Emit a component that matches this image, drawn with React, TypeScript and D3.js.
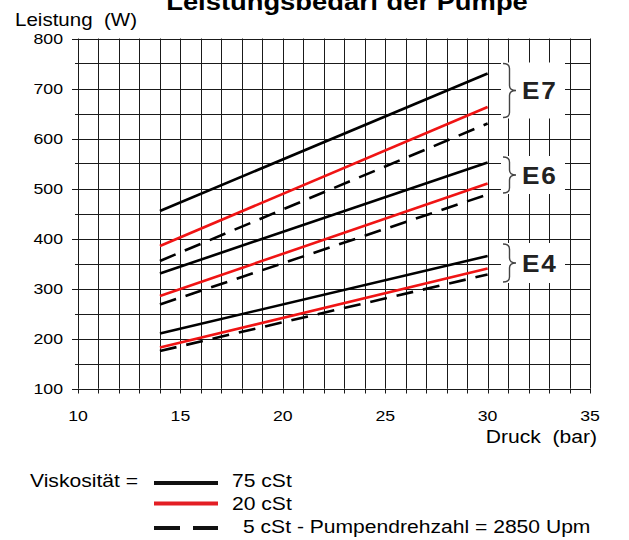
import React, { useEffect, useRef } from "react";
import * as d3 from "d3";

// pressure range of the curves (bar)
const pressure = [14, 30];

// power demand (W) at 14 and 30 bar
const e7Cst75 = [455, 730];
const e7Cst20 = [385, 663];
const e7Cst5 = [355, 630];
const e6Cst75 = [330, 552];
const e6Cst20 = [285, 510];
const e6Cst5 = [268, 488];
const e4Cst75 = [210, 365];
const e4Cst20 = [182, 340];
const e4Cst5 = [175, 328];

const groupNames = ["E7", "E6", "E4"];
const braceTop = [750, 563, 389];
const braceBottom = [642, 491, 313];

const xTicks = [10, 15, 20, 25, 30, 35];
const yTicks = [100, 200, 300, 400, 500, 600, 700, 800];

const legendLabels = ["75 cSt", "20 cSt", "5 cSt - Pumpendrehzahl = 2850 Upm"];

const FONT = "'Liberation Sans', Arial, sans-serif";
const RED = "#f01414";
// the scanned original is stretched a bit horizontally
const SX = 1.14;

// text with the horizontal stretch of the original
const addText = (parent, x, y, str, size, anchor = "start", bold = false) =>
  parent
    .append("text")
    .attr("transform", `translate(${x},${y}) scale(${SX},1)`)
    .attr("text-anchor", anchor)
    .attr("font-size", size)
    .attr("font-weight", bold ? "bold" : "normal")
    .style("white-space", "pre")
    .text(str);

const App = () => {
  const svgRef = useRef(null);

  useEffect(() => {
    const svg = d3.select(svgRef.current);
    svg.selectAll("*").remove();

    const x = d3.scaleLinear().domain([10, 35]).range([78, 590]);
    const y = d3.scaleLinear().domain([100, 800]).range([388.5, 38.5]);

    const grid = svg.append("g").attr("stroke", "#1a1a1a").attr("stroke-width", 1);

    // vertical grid, one per bar
    grid
      .selectAll("line.v")
      .data(d3.range(10, 36, 1))
      .enter()
      .append("line")
      .attr("x1", (d) => Math.round(x(d)) + 0.5)
      .attr("x2", (d) => Math.round(x(d)) + 0.5)
      .attr("y1", y(800))
      .attr("y2", y(100));

    // horizontal grid, every 50 W
    grid
      .selectAll("line.h")
      .data(d3.range(100, 801, 50))
      .enter()
      .append("line")
      .attr("x1", x(10))
      .attr("x2", x(35))
      .attr("y1", (d) => Math.round(y(d)) + 0.5)
      .attr("y2", (d) => Math.round(y(d)) + 0.5);

    // axis ticks
    grid
      .selectAll("line.yt")
      .data(d3.range(100, 801, 50))
      .enter()
      .append("line")
      .attr("x1", (d) => x(10) - (d % 100 === 0 ? 6 : 3))
      .attr("x2", x(10))
      .attr("y1", (d) => Math.round(y(d)) + 0.5)
      .attr("y2", (d) => Math.round(y(d)) + 0.5);

    grid
      .selectAll("line.xt")
      .data(d3.range(10, 36, 1))
      .enter()
      .append("line")
      .attr("x1", (d) => Math.round(x(d)) + 0.5)
      .attr("x2", (d) => Math.round(x(d)) + 0.5)
      .attr("y1", y(100))
      .attr("y2", y(100) + 5);

    const labels = svg.append("g");
    yTicks.forEach((d) => addText(labels, 63, y(d) + 5.5, String(d), 15.5, "end"));
    xTicks.forEach((d) => addText(labels, x(d), 421, String(d), 15.5, "middle"));

    // curves
    const line = d3
      .line()
      .x((d) => x(d[0]))
      .y((d) => y(d[1]));

    const curves = [
      { v: e7Cst75, c: "#000", dash: null },
      { v: e7Cst20, c: RED, dash: null },
      { v: e7Cst5, c: "#000", dash: "17 10" },
      { v: e6Cst75, c: "#000", dash: null },
      { v: e6Cst20, c: RED, dash: null },
      { v: e6Cst5, c: "#000", dash: "17 10" },
      { v: e4Cst75, c: "#000", dash: null },
      { v: e4Cst20, c: RED, dash: null },
      { v: e4Cst5, c: "#000", dash: "17 10" },
    ];

    svg
      .append("g")
      .selectAll("path")
      .data(curves)
      .enter()
      .append("path")
      .attr("d", (d) => line(pressure.map((p, i) => [p, d.v[i]])))
      .attr("fill", "none")
      .attr("stroke", (d) => d.c)
      .attr("stroke-width", 2.6)
      .attr("stroke-dasharray", (d) => d.dash);

    // braces + group labels
    const groups = svg
      .append("g")
      .selectAll("g")
      .data(groupNames.map((name, i) => ({ name, top: braceTop[i], bottom: braceBottom[i] })))
      .enter()
      .append("g");

    groups
      .append("rect")
      .attr("x", 501)
      .attr("y", (d) => y(d.top) - 1)
      .attr("width", 64)
      .attr("height", (d) => y(d.bottom) - y(d.top) + 2)
      .attr("fill", "#fff");

    const brace = (d) => {
      const x0 = 503;
      const x1 = 516;
      const xm = (x0 + x1) / 2;
      const t = y(d.top);
      const b = y(d.bottom);
      const m = (t + b) / 2;
      const r = 5;
      return `M${x0},${t} Q${xm},${t} ${xm},${t + r} L${xm},${m - r} Q${xm},${m} ${x1},${m} Q${xm},${m} ${xm},${m + r} L${xm},${b - r} Q${xm},${b} ${x0},${b}`;
    };

    groups
      .append("path")
      .attr("d", brace)
      .attr("fill", "none")
      .attr("stroke", "#444")
      .attr("stroke-width", 1.4);

    groups.each(function (d) {
      addText(d3.select(this), 522, (y(d.top) + y(d.bottom)) / 2 + 8.5, d.name, 23, "start", true)
        .attr("letter-spacing", 1.5)
        .attr("fill", "#222");
    });

    // titles
    addText(svg, 347, 10, "Leistungsbedarf der Pumpe", 24, "middle", true);
    addText(svg, 15, 26, "Leistung  (W)", 18);
    addText(svg, 597, 443, "Druck  (bar)", 18.5, "end");

    // legend
    const legend = svg.append("g");
    addText(legend, 30, 487, "Viskosität =", 18.5);

    const legendStyles = [
      { c: "#111", dash: null, ly: 483 },
      { c: "#e31e24", dash: null, ly: 503.5 },
      { c: "#111", dash: "26 13", ly: 528 },
    ];

    legend
      .selectAll("line")
      .data(legendStyles)
      .enter()
      .append("line")
      .attr("x1", 154)
      .attr("x2", 218)
      .attr("y1", (d) => d.ly)
      .attr("y2", (d) => d.ly)
      .attr("stroke", (d) => d.c)
      .attr("stroke-width", 4)
      .attr("stroke-dasharray", (d) => d.dash);

    legendLabels.forEach((t, i) =>
      addText(legend, [232, 232, 243][i], [487, 510, 533][i], t, 18.5)
    );
  }, []);

  return (
    <svg
      ref={svgRef}
      width={629}
      height={540}
      style={{ position: "absolute", left: 0, top: 0, fontFamily: FONT, background: "#fff" }}
    />
  );
};

export default App;
